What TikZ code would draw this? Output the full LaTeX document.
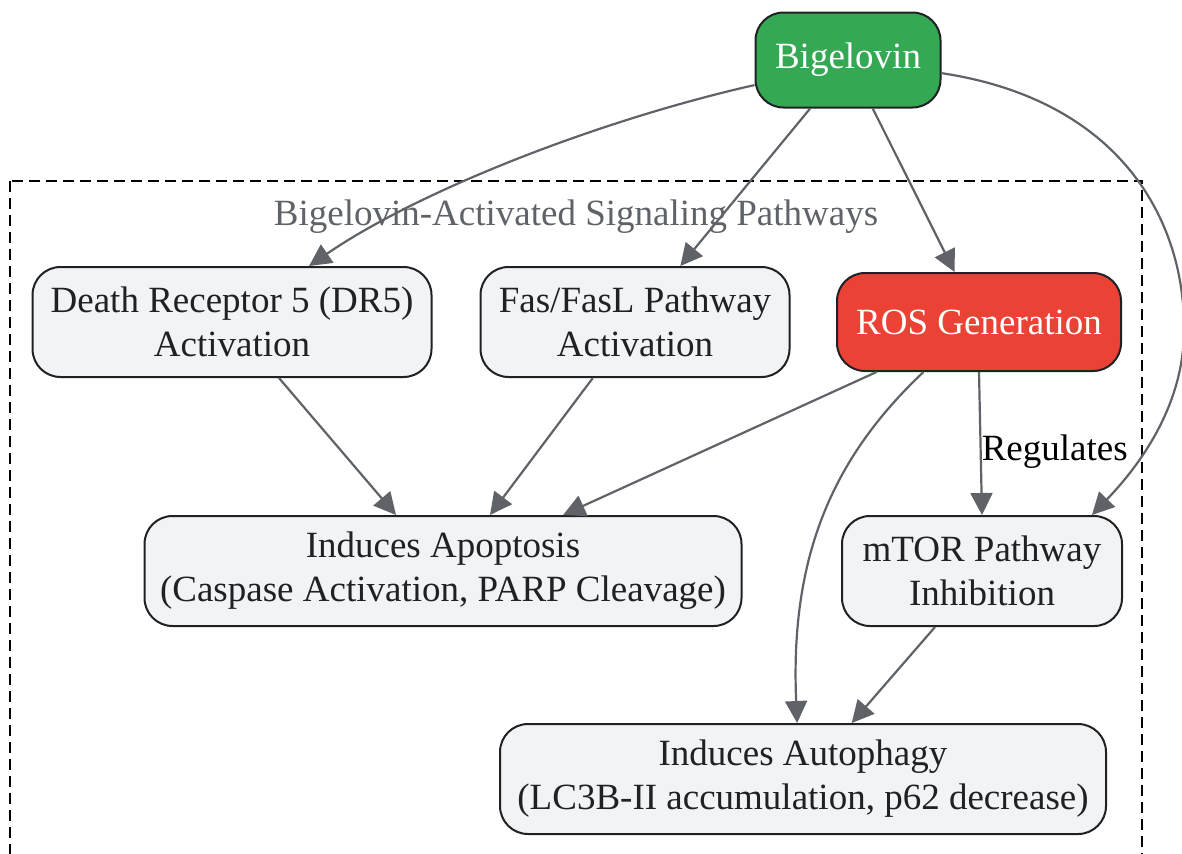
\documentclass[tikz,border=0pt]{standalone}
\usepackage{fontspec}
\setmainfont{Liberation Serif}
\usetikzlibrary{arrows.meta}
\definecolor{edgegray}{HTML}{5F6368}
\definecolor{boxline}{HTML}{202124}
\definecolor{boxfill}{HTML}{F1F3F4}
\definecolor{drugfill}{HTML}{34A853}
\definecolor{rosfill}{HTML}{EA4335}
\begin{document}
\begin{tikzpicture}[x=0.5pt,y=-0.5pt,
  txt/.style={font=\fontsize{18.5}{22}\selectfont},
  box/.style={txt,draw=boxline,line width=1pt,rounded corners=14pt,fill=boxfill,text=boxline,align=center,inner sep=0pt,minimum height=55pt},
  link/.style={draw=edgegray,line width=1.1pt,-{Triangle[length=11pt,width=11pt]}}]
\useasboundingbox (0,0) rectangle (1182,853);
\draw[line width=1.1pt,dash pattern=on 5.5pt off 3pt] (10,181) rectangle (1142,900);
\node[txt,text=edgegray] (clabel) at (576,217) {Bigelovin-Activated Signaling Pathways};
\node[box,fill=drugfill,text=white,minimum width=92.5pt,minimum height=47.5pt] (big) at (848,60) {Bigelovin};
\node[box,minimum width=199.5pt] (dr5) at (232,322) {Death Receptor 5 (DR5)\\Activation};
\node[box,minimum width=154.5pt] (fas) at (635,322) {Fas/FasL Pathway\\Activation};
\node[box,fill=rosfill,text=white,minimum width=142pt,minimum height=49pt] (ros) at (979,322) {ROS Generation};
\node[box,minimum width=298.5pt] (apo) at (443,571) {Induces Apoptosis\\(Caspase Activation, PARP Cleavage)};
\node[box,minimum width=140pt] (mtor) at (982,571) {mTOR Pathway\\Inhibition};
\node[box,minimum width=303pt] (auto) at (803,779) {Induces Autophagy\\(LC3B-II accumulation, p62 decrease)};
\draw[link] (big.195) .. controls (600,120) and (420,190) .. (dr5.36);
\draw[link] (big.232) -- (fas.51);
\draw[link] (big.297) -- (ros.116);
\draw[link] (big.352) .. controls (1120,100) and (1185,220) .. (1184,330) .. controls (1184,405) and (1140,465) .. (mtor.27);
\draw[link] (dr5.310) -- (apo.130);
\draw[link] (fas.233) -- (apo.50);
\draw[link] (ros.206) -- (apo.25);
\draw[link] (ros.222) .. controls (830,460) and (790,560) .. (auto.96);
\draw[link] (ros.south) -- node[txt,right,inner sep=0pt,pos=0.56] (reg) {Regulates} (mtor.north);
\draw[link] (mtor.230) -- (auto.49);
\end{tikzpicture}
\end{document}
